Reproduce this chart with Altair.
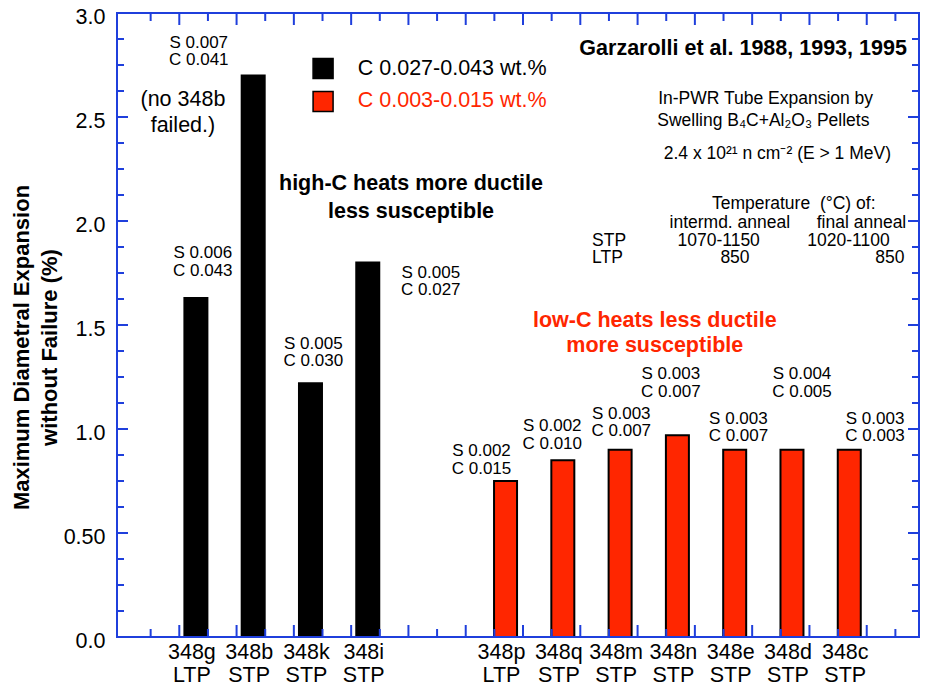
import altair as alt
import pandas as pd

# ---------------- data ----------------
heats = ["348g", "348b", "348k", "348i", "348p", "348q", "348m", "348n", "348e", "348d", "348c"]
process = ["LTP", "STP", "STP", "STP", "LTP", "STP", "STP", "STP", "STP", "STP", "STP"]
expansion = [1.63, 2.70, 1.22, 1.80, 0.75, 0.85, 0.90, 0.97, 0.90, 0.90, 0.90]
x_pos = [2.58, 4.58, 6.58, 8.58, 13.39, 15.39, 17.39, 19.39, 21.39, 23.39, 25.39]
carbon_group = ["high"] * 4 + ["low"] * 7
sulfur = ["0.006", "0.007", "0.005", "0.005", "0.002", "0.002", "0.003", "0.003", "0.003", "0.004", "0.003"]
carbon = ["0.043", "0.041", "0.030", "0.027", "0.015", "0.010", "0.007", "0.007", "0.007", "0.005", "0.003"]
# first-line position of each "S / C" note
label_x = [2.82, 2.68, 6.68, 10.78, 12.55, 15.02, 17.43, 19.16, 21.52, 23.74, 26.29]
label_y = [1.846, 2.856, 1.409, 1.751, 0.894, 1.014, 1.074, 1.263, 1.050, 1.263, 1.050]

y_labels = [0.0, 0.5, 1.0, 1.5, 2.0, 2.5, 3.0]
y_minor = [0.125, 0.25, 0.375, 0.625, 0.75, 0.875, 1.125, 1.25, 1.375, 1.625, 1.75, 1.875,
           2.125, 2.25, 2.375, 2.625, 2.75, 2.875]
x_major = [2, 4, 6, 8, 10, 12, 14, 16, 18, 20, 22, 24, 26]
x_minor = [1, 3, 5, 7, 9, 11, 13, 15, 17, 19, 21, 23, 25, 27]

legend_labels = ["C 0.027-0.043 wt.%", "C 0.003-0.015 wt.%"]
legend_groups = ["high", "low"]
legend_y = [2.733, 2.575]

FONT = "Liberation Sans"
BLUE = "#1f3fdc"
RED = "#ff2600"
W, H = 802, 624

xs = alt.Scale(domain=[0, 27.65], nice=False, zero=False)
ys = alt.Scale(domain=[0, 3], nice=False, zero=True)
fill_scale = alt.Scale(domain=["high", "low"], range=["#000000", RED])

df = pd.DataFrame({
    "heat": heats, "proc": process, "value": expansion, "x": x_pos,
    "group": carbon_group, "lx": label_x, "ly": label_y,
})
df["lab"] = df["heat"] + "\n" + df["proc"]
df["sc"] = ["S " + s + "\nC " + c for s, c in zip(sulfur, carbon)]

yaxis = alt.Axis(
    values=y_labels,
    labelExpr="datum.value == 0.5 ? '0.50' : format(datum.value, '.1f')",
    labelFontSize=21.5, labelFont=FONT, labelColor="black", labelPadding=12, labelOffset=4.5,
    ticks=False, tickSize=0, domain=False, grid=False,
    title=["Maximum Diametral Expansion", "without Failure (%)"],
    titleFont=FONT, titleFontSize=22, titleFontWeight="bold", titleColor="black",
    titleLineHeight=28, titleAngle=270, titleAlign="center", titleBaseline="alphabetic",
    titleX=-89, titleY=334,
)


def Y(field):
    return alt.Y(field, scale=ys, axis=yaxis)


bars = alt.Chart(df).mark_bar(size=23, stroke="black", strokeWidth=2).encode(
    x=alt.X("x:Q", scale=xs, axis=None),
    y=Y("value:Q"),
    fill=alt.Fill("group:N", scale=fill_scale, legend=None),
)

sc_labels = alt.Chart(df).mark_text(
    fontSize=17, lineHeight=17.5, lineBreak="\n", align="center", baseline="middle", color="black"
).encode(
    x=alt.X("lx:Q", scale=xs, axis=None),
    y=Y("ly:Q"),
    text="sc:N",
)

cat_labels = alt.Chart(df).mark_text(
    fontSize=21.5, lineHeight=23, lineBreak="\n", align="center", baseline="top", dx=-4, color="black"
).encode(
    x=alt.X("x:Q", scale=xs, axis=None),
    y=alt.value(H + 4.5),
    text="lab:N",
)


def xtick_layer(vals, y0, y1):
    return alt.Chart(pd.DataFrame({"t": vals})).mark_rule(color=BLUE, strokeWidth=2).encode(
        x=alt.X("t:Q", scale=xs, axis=None), y=alt.value(y0), y2=alt.value(y1))


def ytick_layer(vals, x0, x1):
    return alt.Chart(pd.DataFrame({"t": vals})).mark_rule(color=BLUE, strokeWidth=2).encode(
        y=Y("t:Q"), x=alt.value(x0), x2=alt.value(x1))


ticks = [
    xtick_layer(x_major, 0, 12), xtick_layer(x_minor, 0, 8),
    xtick_layer(x_major, H, H - 12), xtick_layer(x_minor, H, H - 8),
    ytick_layer(y_labels, 0, 11), ytick_layer(y_minor, 0, 7),
    ytick_layer(y_labels, W, W - 11), ytick_layer(y_minor, W, W - 7),
]

base_line = alt.Chart(pd.DataFrame({"t": [0]})).mark_rule(color=BLUE, strokeWidth=2).encode(
    y=Y("t:Q"), x=alt.value(0), x2=alt.value(W))


def text_layer(texts, xv, yv, **kw):
    d = pd.DataFrame({"t": texts, "x": xv, "y": yv})
    return alt.Chart(d).mark_text(lineBreak="\n", **kw).encode(
        x=alt.X("x:Q", scale=xs, axis=None),
        y=Y("y:Q"),
        text="t:N",
    )


note_failed = text_layer(["(no 348b\nfailed.)"], [2.127], [2.582],
                         fontSize=21.5, lineHeight=26, align="center", baseline="middle", color="black")
note_high = text_layer(["high-C heats more ductile\nless susceptible"], [10.09], [2.176],
                       fontSize=21.5, fontWeight="bold", lineHeight=28, align="center",
                       baseline="middle", color="black")
note_low = text_layer(["low-C heats less ductile\nmore susceptible"], [18.6], [1.519],
                      fontSize=21.5, fontWeight="bold", lineHeight=25, align="center",
                      baseline="middle", color=RED)
note_src = text_layer(["Garzarolli et al. 1988, 1993, 1995"], [27.4], [2.8255],
                      fontSize=21.5, fontWeight="bold", align="right", baseline="middle", color="black")
note_center = text_layer(
    ["In-PWR Tube Expansion by", "Swelling B\u2084C+Al\u2082O\u2083 Pellets",
     "2.4 x 10\u00b2\u00b9 n cm\u207b\u00b2 (E > 1 MeV)", "Temperature \u00a0(\u00b0C) of:",
     "intermd. anneal", "1070-1150", "1020-1100", "850"],
    [22.47, 22.39, 22.88, 23.45, 21.22, 20.83, 25.36, 21.40],
    [2.585, 2.481, 2.321, 2.080, 1.992, 1.904, 1.904, 1.823],
    fontSize=17.5, align="center", baseline="middle", color="black")
note_right = text_layer(["final anneal", "850"], [27.38, 27.32], [1.992, 1.823],
                        fontSize=17.5, align="right", baseline="middle", color="black")
note_left = text_layer(["STP", "LTP"], [16.41, 16.41], [1.904, 1.823],
                       fontSize=17.5, align="left", baseline="middle", color="black")

leg_df = pd.DataFrame({"t": legend_labels, "g": legend_groups, "y": legend_y,
                       "xs": [7.02, 7.02], "xt": [8.23, 8.23]})
leg_sq = alt.Chart(leg_df).mark_point(shape="square", filled=True, size=400, stroke="black",
                                      strokeWidth=1.5, opacity=1).encode(
    x=alt.X("xs:Q", scale=xs, axis=None),
    y=Y("y:Q"),
    fill=alt.Fill("g:N", scale=fill_scale, legend=None),
)
leg_txt = alt.Chart(leg_df).mark_text(fontSize=21.5, align="left", baseline="middle").encode(
    x=alt.X("xt:Q", scale=xs, axis=None),
    y=Y("y:Q"),
    text="t:N",
    color=alt.Color("g:N", scale=fill_scale, legend=None),
)

chart = alt.layer(
    bars, *ticks, base_line, sc_labels, cat_labels,
    note_failed, note_high, note_low, note_src, note_center, note_right, note_left,
    leg_sq, leg_txt,
).properties(
    width=W, height=H,
    padding={"left": 109, "top": 5, "right": 1, "bottom": 46},
    autosize=alt.AutoSizeParams(type="none"),
).configure(font=FONT).configure_view(stroke=BLUE, strokeWidth=2)

chart.save("out.html", embed_options={"renderer": "svg", "actions": False})
